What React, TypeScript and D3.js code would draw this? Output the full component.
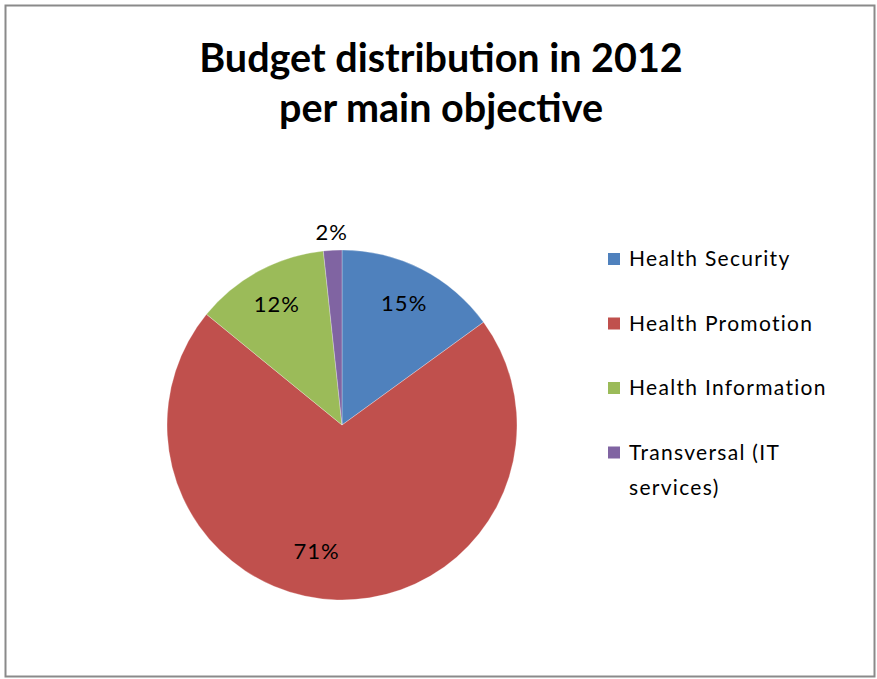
import { arc, pie, scaleOrdinal } from "d3";
import { useMemo } from "react";

// budget share per main objective (percent)
const categories = [
  "Health Security",
  "Health Promotion",
  "Health Information",
  "Transversal (IT services)"
];
const shares = [15.0, 70.9, 12.4, 1.7];
const shareLabels = ["15%", "71%", "12%", "2%"];
const legendLines = [
  ["Health Security"],
  ["Health Promotion"],
  ["Health Information"],
  ["Transversal (IT", "services)"]
];
const sliceColors = ["#4f81bd", "#c0504d", "#9bbb59", "#8064a2"];

const width = 877;
const height = 679;
const cx = 342;
const cy = 425;
const radius = 175;
const insideLabelRadius = 137;
const outsideLabelRadius = 193;
const legendX = 608;
const legendY = 259;
const legendStep = 64.5;
const fontFamily = "Lato, 'Open Sans', sans-serif";

function App() {
  const color = useMemo(
    () => scaleOrdinal<string, string>().domain(categories).range(sliceColors),
    []
  );

  const slices = useMemo(() => {
    const layout = pie<number>().sort(null).value((d) => d);
    return layout(shares);
  }, []);

  const slicePath = arc<any>().innerRadius(0).outerRadius(radius);

  const labelPos = (d: any) => {
    const span = d.endAngle - d.startAngle;
    // small slices get their label outside, like Excel's best fit
    const r = span < 0.2 ? outsideLabelRadius : insideLabelRadius;
    let mid = (d.startAngle + d.endAngle) / 2;
    let rr = r;
    if (span > Math.PI) {
      // Excel pulls the big slice's label a bit off its middle
      mid += 0.17;
      rr = r - 8;
    }
    return [Math.sin(mid) * rr, -Math.cos(mid) * rr];
  };

  return (
    <div style={{ position: "absolute", left: 0, top: 0 }}>
      <svg width={width} height={height} style={{ display: "block" }}>
        <rect x={0} y={0} width={width} height={height} fill="#ffffff" />
        <rect
          x={5.5}
          y={5.5}
          width={869}
          height={671}
          fill="#ffffff"
          stroke="#8a8a8a"
          strokeWidth={2}
        />
        <g fontFamily={fontFamily} fontWeight={700} fontSize={39.5} textAnchor="middle" fill="#000">
          <text x={441} y={72}>Budget distribution in 2012</text>
          <text x={441} y={122}>per main objective</text>
        </g>
        <g transform={`translate(${cx},${cy})`}>
          {slices.map((d, i) => (
            <path
              key={categories[i]}
              d={slicePath(d) ?? ""}
              fill={color(categories[i])}
              stroke="#ffffff"
              strokeOpacity={0.35}
              strokeWidth={0.8}
            />
          ))}
          {slices.map((d, i) => {
            const [x, y] = labelPos(d);
            return (
              <text
                key={`label-${categories[i]}`}
                x={x}
                y={y}
                dy="0.35em"
                textAnchor="middle"
                fontFamily={fontFamily}
                fontSize={22}
                letterSpacing={1}
                fill="#000"
              >
                {shareLabels[i]}
              </text>
            );
          })}
        </g>
        <g fontFamily={fontFamily} fontSize={21} letterSpacing={1.3} fill="#000">
          {categories.map((c, i) => (
            <g key={`legend-${c}`} transform={`translate(${legendX},${legendY + i * legendStep})`}>
              <rect x={0} y={-6} width={12} height={12} fill={color(c)} />
              <text x={21} y={0} dy="0.35em">
                {legendLines[i].map((line, j) => (
                  <tspan key={line} x={21} dy={j === 0 ? "0.35em" : 35}>
                    {line}
                  </tspan>
                ))}
              </text>
            </g>
          ))}
        </g>
      </svg>
    </div>
  );
}

export default App;
